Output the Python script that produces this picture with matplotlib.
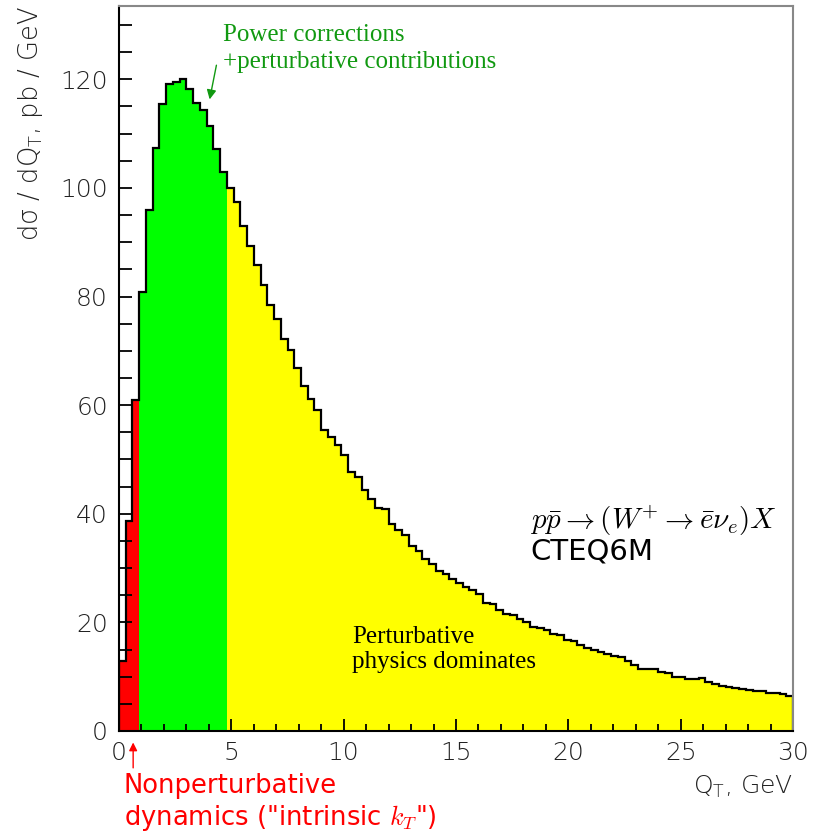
import numpy as np
import matplotlib
matplotlib.use("Agg")
import matplotlib.pyplot as plt

plt.rcParams['font.family'] = ['DejaVu Sans']
plt.rcParams['mathtext.fontset'] = 'custom'
plt.rcParams['mathtext.rm'] = 'DejaVu Sans:light'
plt.rcParams['mathtext.it'] = 'DejaVu Sans:italic:light'

# Q_T spectrum, 0.3 GeV bins from 0 to 30 GeV (pb/GeV)
bin_width = 0.3
qt_max = 30.0
dsigma = [
    12.9, 38.6, 61.0, 80.9, 95.9, 107.4, 115.5, 119.1, 119.5, 120.1,
    118.2, 115.6, 114.3, 111.4, 107.2, 102.9, 100.0, 97.4, 92.9, 89.3,
    85.8, 82.1, 78.4, 75.8, 72.1, 70.1, 66.8, 63.5, 61.1, 59.1,
    55.4, 54.1, 52.6, 50.8, 47.7, 46.7, 44.4, 42.7, 41.0, 40.9,
    38.2, 37.0, 36.1, 34.1, 33.1, 31.7, 30.7, 29.4, 29.0, 28.0,
    27.2, 26.6, 26.0, 25.3, 23.6, 23.3, 22.3, 21.6, 21.3, 20.6,
    20.1, 19.2, 18.9, 18.6, 17.9, 17.7, 16.8, 16.5, 15.9, 15.3,
    14.9, 14.6, 14.1, 13.8, 13.6, 12.9, 12.2, 11.5, 11.4, 11.4,
    10.8, 10.7, 9.9, 10.0, 9.6, 9.6, 9.7, 9.0, 8.7, 8.3,
    8.15, 7.97, 7.73, 7.55, 7.4, 7.36, 7.05, 7.0, 6.75, 6.44,
]
# bin index where each region starts
n_nonpert = 3      # 0 - 0.9 GeV
n_power = 16       # 0.9 - 4.8 GeV

x_ticks = [0, 5, 10, 15, 20, 25, 30]
y_ticks = [0, 20, 40, 60, 80, 100, 120]

vals = np.array(dsigma)
edges = np.linspace(0, qt_max, len(vals) + 1)

fig = plt.figure(figsize=(8.19, 8.32), dpi=100)
ax = fig.add_axes([119/819, 101/832, 674/819, 725/832])

ax.stairs(vals[:n_nonpert], edges[:n_nonpert + 1], fill=True, color='#ff0000', lw=0)
ax.stairs(vals[n_nonpert:n_power], edges[n_nonpert:n_power + 1], fill=True, color='#00ff00', lw=0)
ax.stairs(vals[n_power:], edges[n_power:], fill=True, color='#ffff00', lw=0)
ax.stairs(vals, edges, color='black', lw=1.6, baseline=0)

ax.set_xlim(0, qt_max)
ax.set_ylim(0, 133.5)
ax.set_xticks(x_ticks)
ax.set_yticks(y_ticks)
ax.set_xticks(np.arange(0, 31, 1), minor=True)
ax.set_yticks(np.arange(0, 131, 5), minor=True)
ax.tick_params(axis='both', which='both', direction='in', width=1.3)
ax.tick_params(axis='x', which='major', length=9, pad=7)
ax.tick_params(axis='x', which='minor', length=5)
ax.tick_params(axis='y', which='both', length=9, pad=8)
for lab in ax.get_xticklabels() + ax.get_yticklabels():
    lab.set_fontsize(18)
    lab.set_fontweight('light')
    lab.set_color('#222222')

for side in ['top', 'right']:
    ax.spines[side].set_color('#888888')
    ax.spines[side].set_linewidth(1.5)
for side in ['left', 'bottom']:
    ax.spines[side].set_linewidth(1.5)

ax.text(1.0, -0.077, r'Q$_{\mathrm{T}}$, GeV', transform=ax.transAxes,
        ha='right', va='center', fontsize=18, fontweight='light', color='#222222')
ax.text(-0.132, 1.0, r'dσ / dQ$_{\mathrm{T}}$, pb / GeV', transform=ax.transAxes,
        rotation=90, ha='center', va='top', fontsize=18.5, fontweight='light',
        color='#222222')

# region annotations
ax.text(4.63, 125.6, 'Power corrections\n+perturbative contributions',
        family='Liberation Serif', fontsize=18, color='#119911',
        ha='left', va='center', linespacing=1.3)
ax.annotate('', xy=(4.01, 115.8), xytext=(4.36, 123.1),
            arrowprops=dict(arrowstyle='-|>', color='#119911', lw=1.0,
                            mutation_scale=14))

ax.text(10.37, 15.0, 'Perturbative\nphysics dominates',
        family='Liberation Serif', fontsize=18, color='black',
        ha='left', va='center', linespacing=1.2)

ax.text(18.29, 38.8, r'$p\bar{p} \rightarrow (W^{+} \rightarrow \bar{e}\nu_{e})X$',
        math_fontfamily='cm', fontsize=21, ha='left', va='center')
ax.text(18.29, 33.1, 'CTEQ6M', fontsize=21, ha='left', va='center')

ax.text(0.22, -13.25, 'Nonperturbative\ndynamics ("intrinsic $k_T$")',
        math_fontfamily='cm', fontsize=18.6, color='#ff0000',
        ha='left', va='center', linespacing=1.22, clip_on=False)
ax.annotate('', xy=(0.63, -1.6), xytext=(0.63, -7.3), annotation_clip=False,
            arrowprops=dict(arrowstyle='-|>', color='#ff0000', lw=1.0,
                            mutation_scale=12))

fig.savefig('out.png', dpi=100)
